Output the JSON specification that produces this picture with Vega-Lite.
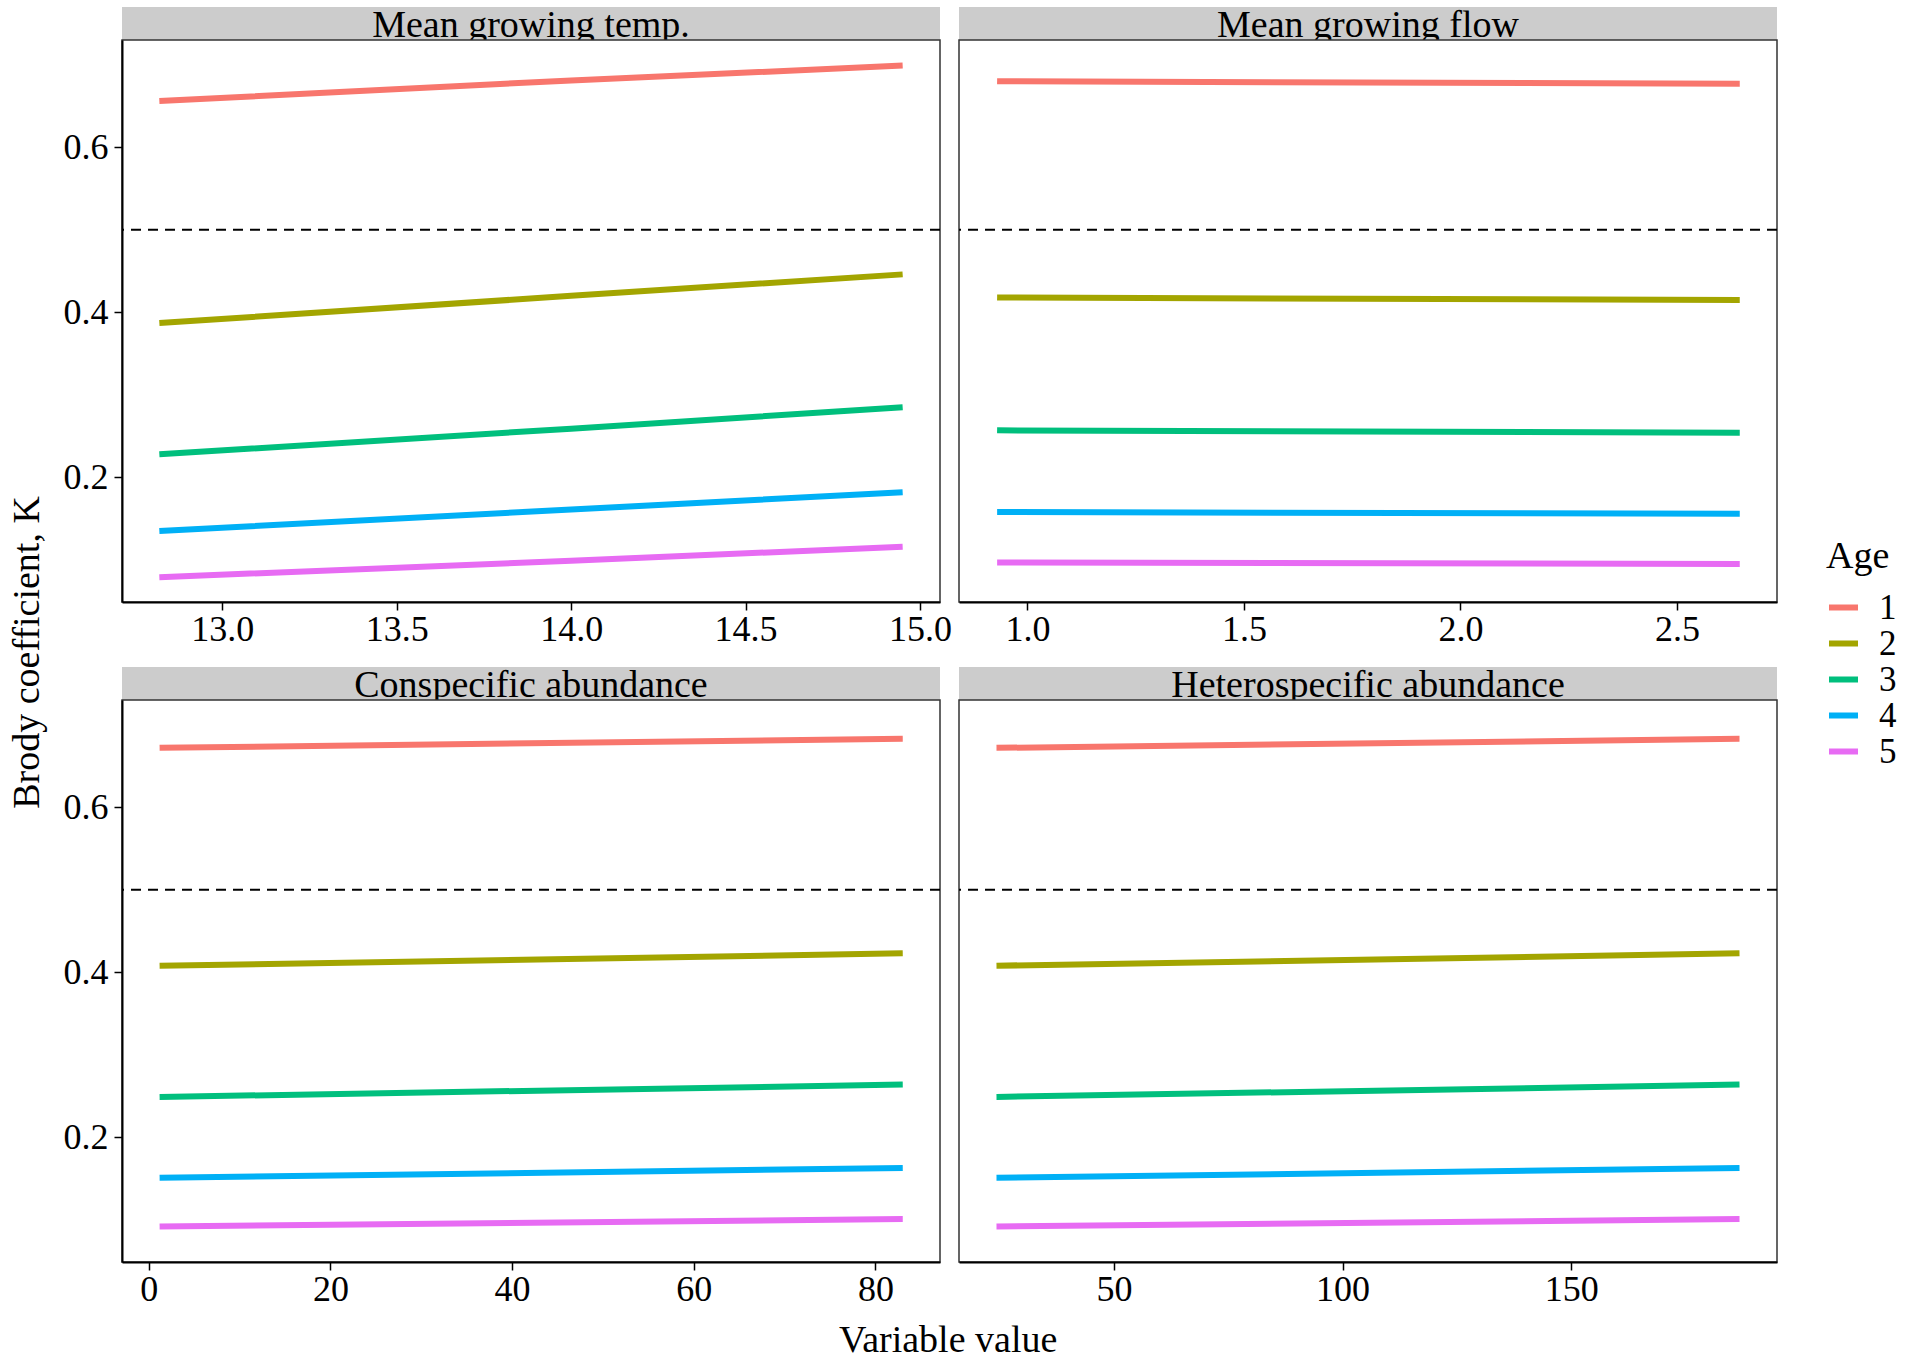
{
  "$schema": "https://vega.github.io/schema/vega-lite/v6.json",
  "background": "white",
  "padding": {"left": 7, "top": 7, "right": 5, "bottom": 5},
  "title": {"text": "Variable value", "orient": "bottom", "anchor": "middle", "frame": "bounds", "font": "Liberation Serif", "fontSize": 38, "fontWeight": "normal", "color": "black", "offset": 14, "dx": -4},
  "datasets": {
    "lines": [
      {"panel": "temp", "x": 12.82, "K": 0.656, "age": "1"},
      {"panel": "temp", "x": 14.0, "K": 0.681, "age": "1"},
      {"panel": "temp", "x": 14.95, "K": 0.699, "age": "1"},
      {"panel": "temp", "x": 12.82, "K": 0.387, "age": "2"},
      {"panel": "temp", "x": 14.0, "K": 0.420, "age": "2"},
      {"panel": "temp", "x": 14.95, "K": 0.446, "age": "2"},
      {"panel": "temp", "x": 12.82, "K": 0.228, "age": "3"},
      {"panel": "temp", "x": 14.0, "K": 0.259, "age": "3"},
      {"panel": "temp", "x": 14.95, "K": 0.285, "age": "3"},
      {"panel": "temp", "x": 12.82, "K": 0.135, "age": "4"},
      {"panel": "temp", "x": 14.0, "K": 0.161, "age": "4"},
      {"panel": "temp", "x": 14.95, "K": 0.182, "age": "4"},
      {"panel": "temp", "x": 12.82, "K": 0.079, "age": "5"},
      {"panel": "temp", "x": 14.0, "K": 0.099, "age": "5"},
      {"panel": "temp", "x": 14.95, "K": 0.116, "age": "5"},
      {"panel": "flow", "x": 0.93, "K": 0.680, "age": "1"},
      {"panel": "flow", "x": 2.645, "K": 0.677, "age": "1"},
      {"panel": "flow", "x": 0.93, "K": 0.418, "age": "2"},
      {"panel": "flow", "x": 2.645, "K": 0.415, "age": "2"},
      {"panel": "flow", "x": 0.93, "K": 0.257, "age": "3"},
      {"panel": "flow", "x": 2.645, "K": 0.254, "age": "3"},
      {"panel": "flow", "x": 0.93, "K": 0.158, "age": "4"},
      {"panel": "flow", "x": 2.645, "K": 0.156, "age": "4"},
      {"panel": "flow", "x": 0.93, "K": 0.097, "age": "5"},
      {"panel": "flow", "x": 2.645, "K": 0.095, "age": "5"},
      {"panel": "consp", "x": 1.2, "K": 0.672, "age": "1"},
      {"panel": "consp", "x": 83.0, "K": 0.683, "age": "1"},
      {"panel": "consp", "x": 1.2, "K": 0.408, "age": "2"},
      {"panel": "consp", "x": 83.0, "K": 0.423, "age": "2"},
      {"panel": "consp", "x": 1.2, "K": 0.249, "age": "3"},
      {"panel": "consp", "x": 83.0, "K": 0.264, "age": "3"},
      {"panel": "consp", "x": 1.2, "K": 0.151, "age": "4"},
      {"panel": "consp", "x": 83.0, "K": 0.163, "age": "4"},
      {"panel": "consp", "x": 1.2, "K": 0.092, "age": "5"},
      {"panel": "consp", "x": 83.0, "K": 0.101, "age": "5"},
      {"panel": "hetero", "x": 24.3, "K": 0.672, "age": "1"},
      {"panel": "hetero", "x": 186.8, "K": 0.683, "age": "1"},
      {"panel": "hetero", "x": 24.3, "K": 0.408, "age": "2"},
      {"panel": "hetero", "x": 186.8, "K": 0.423, "age": "2"},
      {"panel": "hetero", "x": 24.3, "K": 0.249, "age": "3"},
      {"panel": "hetero", "x": 186.8, "K": 0.264, "age": "3"},
      {"panel": "hetero", "x": 24.3, "K": 0.151, "age": "4"},
      {"panel": "hetero", "x": 186.8, "K": 0.163, "age": "4"},
      {"panel": "hetero", "x": 24.3, "K": 0.092, "age": "5"},
      {"panel": "hetero", "x": 186.8, "K": 0.101, "age": "5"}
    ],
    "ref": [{"K": 0.5}],
    "blank": [{"label": ""}]
  },
  "spacing": 4,
  "hconcat": [
    {
      "spacing": 0,
      "bounds": "flush",
      "vconcat": [
        {
          "width": 818, "height": 33,
          "view": {"fill": "#cccccc", "stroke": null},
          "data": {"values": [{"label": "Mean growing temp."}]},
          "mark": {"type": "text", "fontSize": 38, "baseline": "alphabetic", "dy": 13.5, "clip": true, "color": "black"},
          "encoding": {"text": {"field": "label"}}
        },
        {
          "width": 818, "height": 562,
          "layer": [
            {
              "data": {"name": "ref"},
              "mark": {"type": "rule", "strokeDash": [10, 7], "strokeWidth": 2, "color": "black"},
              "encoding": {"y": {"field": "K", "type": "quantitative", "scale": {"domain": [0.049, 0.730], "nice": false, "zero": false},
                "axis": {"values": [0.2, 0.4, 0.6], "format": ".1f", "title": "Brody coefficient, K", "titleY": 612}}}
            },
            {
              "data": {"name": "lines"},
              "transform": [{"filter": "datum.panel === 'temp'"}],
              "mark": {"type": "line", "strokeWidth": 6, "strokeCap": "butt"},
              "encoding": {
                "x": {"field": "x", "type": "quantitative", "scale": {"domain": [12.713, 15.057], "nice": false, "zero": false},
                  "axis": {"values": [13.0, 13.5, 14.0, 14.5, 15.0], "format": ".1f", "title": null}},
                "y": {"field": "K", "type": "quantitative"},
                "color": {"field": "age", "type": "nominal",
                  "scale": {"domain": ["1", "2", "3", "4", "5"], "range": ["#F8766D", "#A3A500", "#00BF7D", "#00B0F6", "#E76BF3"]},
                  "legend": {"title": "Age", "orient": "none", "legendX": 1704, "legendY": 531}}
              }
            }
          ]
        },
        {
          "width": 818, "height": 65,
          "view": {"stroke": null},
          "data": {"name": "blank"},
          "mark": {"type": "text"},
          "encoding": {"text": {"field": "label"}}
        },
        {
          "width": 818, "height": 33,
          "view": {"fill": "#cccccc", "stroke": null},
          "data": {"values": [{"label": "Conspecific abundance"}]},
          "mark": {"type": "text", "fontSize": 38, "baseline": "alphabetic", "dy": 13.5, "clip": true, "color": "black"},
          "encoding": {"text": {"field": "label"}}
        },
        {
          "width": 818, "height": 562,
          "layer": [
            {
              "data": {"name": "ref"},
              "mark": {"type": "rule", "strokeDash": [10, 7], "strokeWidth": 2, "color": "black"},
              "encoding": {"y": {"field": "K", "type": "quantitative", "scale": {"domain": [0.049, 0.730], "nice": false, "zero": false},
                "axis": {"values": [0.2, 0.4, 0.6], "format": ".1f", "title": null}}}
            },
            {
              "data": {"name": "lines"},
              "transform": [{"filter": "datum.panel === 'consp'"}],
              "mark": {"type": "line", "strokeWidth": 6, "strokeCap": "butt"},
              "encoding": {
                "x": {"field": "x", "type": "quantitative", "scale": {"domain": [-2.94, 87.1], "nice": false, "zero": false},
                  "axis": {"values": [0, 20, 40, 60, 80], "format": "d", "title": null}},
                "y": {"field": "K", "type": "quantitative"},
                "color": {"field": "age", "type": "nominal",
                  "scale": {"domain": ["1", "2", "3", "4", "5"], "range": ["#F8766D", "#A3A500", "#00BF7D", "#00B0F6", "#E76BF3"]},
                  "legend": {"title": "Age", "orient": "none", "legendX": 1704, "legendY": 531}}
              }
            }
          ]
        }
      ]
    },
    {
      "spacing": 0,
      "bounds": "flush",
      "vconcat": [
        {
          "width": 818, "height": 33,
          "view": {"fill": "#cccccc", "stroke": null},
          "data": {"values": [{"label": "Mean growing flow"}]},
          "mark": {"type": "text", "fontSize": 38, "baseline": "alphabetic", "dy": 13.5, "clip": true, "color": "black"},
          "encoding": {"text": {"field": "label"}}
        },
        {
          "width": 818, "height": 562,
          "layer": [
            {
              "data": {"name": "ref"},
              "mark": {"type": "rule", "strokeDash": [10, 7], "strokeWidth": 2, "color": "black"},
              "encoding": {"y": {"field": "K", "type": "quantitative", "scale": {"domain": [0.049, 0.730], "nice": false, "zero": false}, "axis": null}}
            },
            {
              "data": {"name": "lines"},
              "transform": [{"filter": "datum.panel === 'flow'"}],
              "mark": {"type": "line", "strokeWidth": 6, "strokeCap": "butt"},
              "encoding": {
                "x": {"field": "x", "type": "quantitative", "scale": {"domain": [0.842, 2.731], "nice": false, "zero": false},
                  "axis": {"values": [1.0, 1.5, 2.0, 2.5], "format": ".1f", "title": null}},
                "y": {"field": "K", "type": "quantitative"},
                "color": {"field": "age", "type": "nominal",
                  "scale": {"domain": ["1", "2", "3", "4", "5"], "range": ["#F8766D", "#A3A500", "#00BF7D", "#00B0F6", "#E76BF3"]},
                  "legend": {"title": "Age", "orient": "none", "legendX": 1704, "legendY": 531}}
              }
            }
          ]
        },
        {
          "width": 818, "height": 65,
          "view": {"stroke": null},
          "data": {"name": "blank"},
          "mark": {"type": "text"},
          "encoding": {"text": {"field": "label"}}
        },
        {
          "width": 818, "height": 33,
          "view": {"fill": "#cccccc", "stroke": null},
          "data": {"values": [{"label": "Heterospecific abundance"}]},
          "mark": {"type": "text", "fontSize": 38, "baseline": "alphabetic", "dy": 13.5, "clip": true, "color": "black"},
          "encoding": {"text": {"field": "label"}}
        },
        {
          "width": 818, "height": 562,
          "layer": [
            {
              "data": {"name": "ref"},
              "mark": {"type": "rule", "strokeDash": [10, 7], "strokeWidth": 2, "color": "black"},
              "encoding": {"y": {"field": "K", "type": "quantitative", "scale": {"domain": [0.049, 0.730], "nice": false, "zero": false}, "axis": null}}
            },
            {
              "data": {"name": "lines"},
              "transform": [{"filter": "datum.panel === 'hetero'"}],
              "mark": {"type": "line", "strokeWidth": 6, "strokeCap": "butt"},
              "encoding": {
                "x": {"field": "x", "type": "quantitative", "scale": {"domain": [16.1, 195.0], "nice": false, "zero": false},
                  "axis": {"values": [50, 100, 150], "format": "d", "title": null}},
                "y": {"field": "K", "type": "quantitative"},
                "color": {"field": "age", "type": "nominal",
                  "scale": {"domain": ["1", "2", "3", "4", "5"], "range": ["#F8766D", "#A3A500", "#00BF7D", "#00B0F6", "#E76BF3"]},
                  "legend": {"title": "Age", "orient": "none", "legendX": 1704, "legendY": 531}}
              }
            }
          ]
        }
      ]
    }
  ],
  "config": {
    "font": "Liberation Serif",
    "view": {"stroke": "#333333", "strokeWidth": 1.5},
    "axis": {
      "grid": false, "domainColor": "black", "domainWidth": 2,
      "tickColor": "black", "tickSize": 8, "tickWidth": 1.5,
      "labelFont": "Liberation Serif", "labelFontSize": 36, "labelColor": "black",
      "titleFont": "Liberation Serif", "titleFontSize": 38, "titleFontWeight": "normal", "titleColor": "black"
    },
    "axisX": {"labelPadding": 2, "titlePadding": 6},
    "axisY": {"labelPadding": 6, "titlePadding": 17},
    "legend": {
      "titleFont": "Liberation Serif", "titleFontSize": 38, "titleFontWeight": "normal", "titleColor": "black", "titlePadding": 14,
      "labelFont": "Liberation Serif", "labelFontSize": 35, "labelColor": "black", "labelOffset": 18,
      "symbolType": "stroke", "symbolStrokeWidth": 6, "symbolSize": 841, "rowPadding": -4
    }
  }
}
